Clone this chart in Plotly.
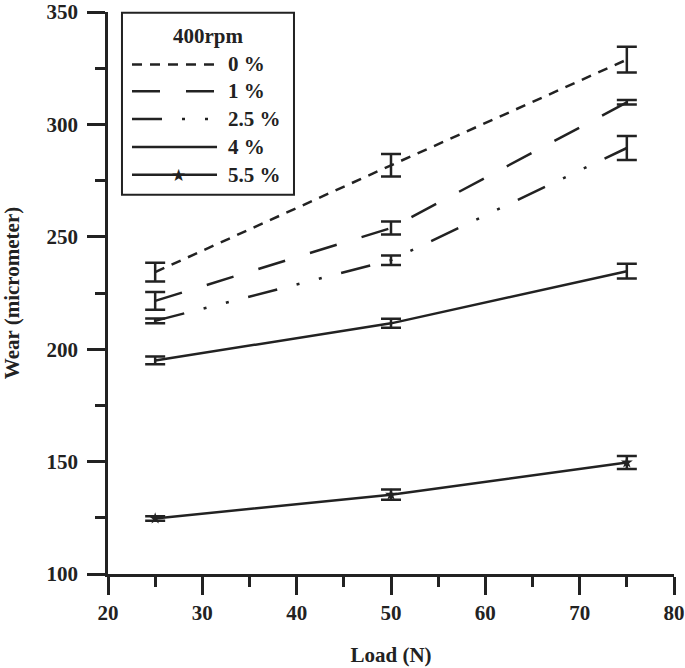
import plotly.graph_objects as go

loads = [25, 50, 75]
series_names = ["0 %", "1 %", "2.5 %", "4 %", "5.5 %"]
wear_0 = [234.3, 281.8, 328.8]
err_0 = [4.2, 5.0, 5.7]
wear_1 = [221.5, 253.9, 309.8]
err_1 = [4.0, 2.9, 1.0]
wear_25 = [212.6, 239.6, 289.5]
err_25 = [1.1, 2.1, 5.3]
wear_4 = [195.0, 211.5, 234.7]
err_4 = [1.7, 2.0, 3.3]
wear_55 = [124.7, 135.3, 149.6]
err_55 = [1.0, 2.3, 2.9]
legend_title = "400rpm"

values = [wear_0, wear_1, wear_25, wear_4, wear_55]
errors = [err_0, err_1, err_25, err_4, err_55]
dashes = ["10px,8px", "28px,26px", "30px,20px,3px,20px,3px,20px", "solid", "solid"]

INK = "#222222"
FONT = "Liberation Serif"
FS = 21

fig = go.Figure()
for name, v, e, d in zip(series_names, values, errors, dashes):
    star = name == "5.5 %"
    fig.add_trace(go.Scatter(
        x=loads, y=v, name=name,
        mode="lines+markers" if star else "lines",
        line=dict(color=INK, width=2.5, dash=d),
        marker=dict(symbol="star", size=9, color=INK),
        error_y=dict(type="data", array=e, visible=True, color=INK, thickness=2.5, width=10),
        showlegend=False,
    ))

# custom legend (paper coordinates)
fig.add_shape(type="rect", xref="paper", yref="paper", x0=0.0247, x1=0.3286, y0=0.675, y1=0.9985,
              line=dict(color=INK, width=2), fillcolor="white", layer="above")
fig.add_annotation(text="<b>%s</b>" % legend_title, xref="paper", yref="paper", x=0.1767, y=0.958,
                   showarrow=False, xanchor="center", yanchor="middle",
                   font=dict(family=FONT, size=FS, color=INK))
rows = [0.9066, 0.8589, 0.8094, 0.7600, 0.7105]
for name, d, ry in zip(series_names, dashes, rows):
    fig.add_shape(type="line", xref="paper", yref="paper", x0=0.0424, x1=0.1926, y0=ry, y1=ry,
                  line=dict(color=INK, width=2.5, dash=d), layer="above")
    fig.add_annotation(text="<b>%s</b>" % name, xref="paper", yref="paper", x=0.208, y=ry,
                       showarrow=False, xanchor="left", yanchor="middle",
                       font=dict(family=FONT, size=FS, color=INK))
    if name == "5.5 %":
        fig.add_annotation(text="★", xref="paper", yref="paper", x=0.1237, y=ry,
                           showarrow=False, xanchor="center", yanchor="middle",
                           font=dict(family="DejaVu Sans", size=17, color=INK))

axis_common = dict(
    showgrid=False, zeroline=False, showline=True, linecolor=INK, linewidth=2.5,
    ticks="outside", ticklen=18, tickwidth=2.5, tickcolor=INK, automargin=False,
    tickfont=dict(family=FONT, size=FS, color=INK),
    tickprefix="<b>", ticksuffix="</b>", ticklabeloverflow="allow",
)
fig.update_xaxes(range=[20, 80], dtick=10, tick0=20,
                 minor=dict(dtick=5, ticks="outside", ticklen=10, tickwidth=2.5, tickcolor=INK),
                 title=dict(text="<b>Load (N)</b>", font=dict(family=FONT, size=FS, color=INK), standoff=24),
                 **axis_common)
fig.update_yaxes(range=[100, 350], dtick=50, tick0=100, ticklabelstandoff=5,
                 minor=dict(dtick=25, ticks="outside", ticklen=10, tickwidth=2.5, tickcolor=INK),
                 title=dict(text="<b>Wear (micrometer)</b>", font=dict(family=FONT, size=FS, color=INK), standoff=25),
                 **axis_common)

fig.update_layout(
    width=685, height=668,
    margin=dict(l=108, r=11, t=12, b=94),
    plot_bgcolor="white", paper_bgcolor="white",
)

fig.write_html("out.html", config={"displayModeBar": False},
               post_script="document.body.style.margin='0';document.body.style.overflow='hidden';")
